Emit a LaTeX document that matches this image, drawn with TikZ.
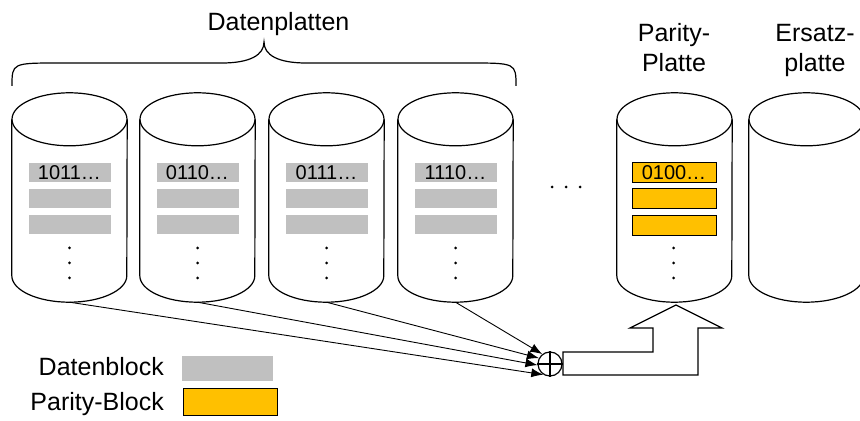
\documentclass[tikz,border=0pt]{standalone}
\usepackage{fontspec}
\setmainfont{Liberation Sans}
\usepackage{tikz}
\usetikzlibrary{shapes.geometric,arrows.meta}

\definecolor{blockgrau}{HTML}{C0C0C0}
\definecolor{paritygelb}{HTML}{FFC000}

\tikzset{
  plattebox/.style={rectangle,minimum width=115bp,minimum height=209bp,inner sep=0pt},
  plattelinie/.style={line width=1.2bp},
  datablock/.style={fill=blockgrau,minimum width=82bp,minimum height=19bp,inner sep=0pt,
    font=\fontsize{20bp}{24bp}\selectfont},
  parityblock/.style={draw,line width=1bp,fill=paritygelb,minimum width=84bp,minimum height=20bp,
    inner sep=0pt,font=\fontsize{20bp}{24bp}\selectfont},
  label/.style={font=\fontsize{25bp}{30bp}\selectfont,inner sep=0pt},
}
% a disk: node name, x position
\newcommand{\platte}[2]{%
  \node (#1) at (#2bp,223.5bp) [plattebox] {};
  \draw [plattelinie] ([yshift=-26.5bp]#1.north) ellipse [x radius=57.5bp,y radius=26.5bp];
  \draw [plattelinie] ([yshift=-26.5bp]#1.north west) -- ([yshift=26.5bp]#1.south west)
    arc [start angle=180,end angle=360,x radius=57.5bp,y radius=26.5bp]
    -- ([yshift=-26.5bp]#1.north east);
}

\begin{document}
\begin{tikzpicture}[>={Latex[length=12bp,width=9bp]},line join=miter]
\useasboundingbox (0bp,0bp) rectangle (860bp,421bp);
%%
  \foreach \n/\x/\bits in {1/69.5/1011,2/197.5/0110,3/326.5/0111,4/455.5/1110} {
    \platte{d\n}{\x}
    \node (d\n b1) at (\x bp,248.5bp) [datablock] {\bits…};
    \node (d\n b2) at (\x bp,222.5bp) [datablock] {};
    \node (d\n b3) at (\x bp,196bp) [datablock] {};
    \foreach \y in {173,158,143} \fill (\x bp,\y bp) circle (1.5bp);
  }
  \platte{p}{674.5}
  \node (p1) at (674bp,248bp) [parityblock] {0100…};
  \node (p2) at (674bp,222bp) [parityblock] {};
  \node (p3) at (674bp,195.5bp) [parityblock] {};
  \foreach \y in {173,158,143} \fill (673.5bp,\y bp) circle (1.5bp);
  \platte{e}{806.5}
  \foreach \x in {552,566,580} \fill (\x bp,234bp) circle (1.5bp);
%
  \draw [line width=1.2bp] (12bp,335bp) .. controls (12bp,358bp) .. (60bp,358bp) -- (222bp,358bp)
    .. controls (250bp,358bp) and (264bp,366bp) .. (264bp,379bp)
    .. controls (264bp,366bp) and (278bp,358bp) .. (306bp,358bp) -- (468bp,358bp)
    .. controls (516bp,358bp) .. (516bp,335bp);
  \node (datenlab) at (278.5bp,390bp) [label,anchor=base] {Datenplatten};
  \node (paritylab) at (674bp,349bp) [label,anchor=base,align=center] {Parity-\\Platte};
  \node (ersatzlab) at (815bp,349bp) [label,anchor=base,align=center] {Ersatz-\\platte};
%
  \node (xor) at (550bp,57bp) [draw,circle,line width=1.2bp,minimum size=24bp,inner sep=0pt] {};
  \draw [line width=1.2bp] (xor.north) -- (xor.south) (xor.west) -- (xor.east);
  \draw [->,line width=0.9bp] (d1.south) -- (xor.238);
  \draw [->,line width=0.9bp] (d2.south) -- (xor.185);
  \draw [->,line width=0.9bp] (d3.south) -- (xor.152);
  \draw [->,line width=0.9bp] (d4.south) -- (xor.128);
  \draw [line width=1.2bp] (563bp,69bp) -- (653bp,69bp) -- (653bp,93bp) -- (630bp,93bp) -- (676bp,116bp)
    -- (722bp,93bp) -- (698bp,93bp) -- (698bp,46bp) -- (563bp,46bp) -- cycle;
%
  \node (lgdaten) at (164bp,54bp) [label,anchor=east] {Datenblock};
  \node (lgdatbox) at (227.5bp,52.5bp) [datablock,minimum width=91bp,minimum height=25bp] {};
  \node (lgparity) at (164bp,17bp) [label,anchor=east] {Parity-Block};
  \node (lgparbox) at (230bp,18.5bp) [parityblock,minimum width=94bp,minimum height=27bp] {};
%
\end{tikzpicture}
\end{document}
